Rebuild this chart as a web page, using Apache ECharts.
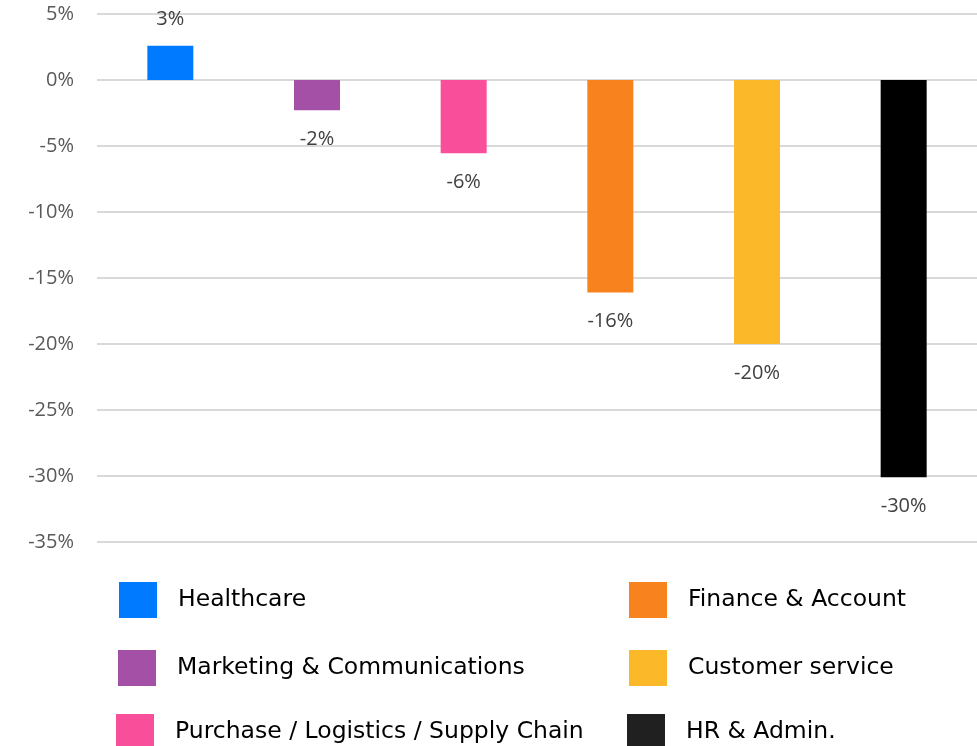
<!DOCTYPE html>
<html>
<head>
<meta charset="utf-8">
<style>
  html, body { margin: 0; padding: 0; background: #fff; }
  #chart1 { width: 977px; height: 746px; }
</style>
<script src="https://cdn.jsdelivr.net/npm/echarts@6/dist/echarts.min.js"></script>
</head>
<body>
<div id="chart1"></div>
<script>
// Datos del gráfico
const departments = ['Healthcare', 'Marketing & Communications', 'Purchase / Logistics / Supply Chain',
    'Finance & Account', 'Customer service', 'HR & Admin.'];
const changes = [2.6, -2.3, -5.55, -16.1, -20.0, -30.1];
const colors = ['#007BFF', '#A550A7', '#F94F9B', '#F7821E', '#FBB829', '#000000'];
const legendColors = ['#007BFF', '#A550A7', '#F94F9B', '#F7821E', '#FBB829', '#202020'];
const yTicks = { min: -35, max: 5, step: 5 };

let chart1;

function buildSeries() {
    let series = [];
    for (let i = 0; i < departments.length; i++) {
        let data = departments.map((d, j) => (j === i ? changes[i] : '-'));
        let positive = changes[i] >= 0;
        series.push({
            name: departments[i],
            type: 'bar',
            stack: 'all',
            barWidth: 46,
            itemStyle: { color: colors[i] },
            label: {
                show: true,
                position: positive ? 'top' : 'bottom',
                distance: positive ? 16 : 19,
                color: '#404040',
                fontFamily: 'Open Sans',
                fontSize: 20,
                formatter: p => Math.round(p.value) + '%'
            },
            data: data
        });
    }
    return series;
}

// una leyenda por elemento (dos columnas de tres filas)
function buildLegends() {
    let legends = [];
    const rowsTop = [582, 650, 714];
    const colLeft = [[119, 118, 116], [629, 629, 627]];
    for (let i = 0; i < departments.length; i++) {
        let col = Math.floor(i / 3), row = i % 3;
        legends.push({
            left: colLeft[col][row],
            top: rowsTop[row],
            itemWidth: 38,
            itemHeight: 36,
            icon: 'rect',
            selectedMode: false,
            padding: 0,
            textStyle: {
                color: '#000',
                fontFamily: 'DejaVu Sans',
                fontSize: 23.5,
                padding: [0, 0, 0, 16]
            },
            data: [{ name: departments[i], itemStyle: { color: legendColors[i] } }]
        });
    }
    return legends;
}

function initCharts() {
    chart1 = echarts.init(document.getElementById('chart1'));
    let option = {
        animation: false,
        grid: { left: 97, right: 0, top: 14, bottom: 204 },
        legend: buildLegends(),
        xAxis: {
            type: 'category',
            data: departments,
            axisLine: { show: false },
            axisTick: { show: false },
            axisLabel: { show: false }
        },
        yAxis: {
            type: 'value',
            min: yTicks.min,
            max: yTicks.max,
            interval: yTicks.step,
            axisLine: { show: false },
            axisTick: { show: false },
            axisLabel: {
                margin: 23,
                color: '#595959',
                fontFamily: 'Open Sans',
                fontSize: 20,
                formatter: v => v + '%'
            },
            splitLine: { lineStyle: { color: '#d9d9d9', width: 2 } }
        },
        series: buildSeries()
    };
    chart1.setOption(option);
}

initCharts();
</script>
</body>
</html>
